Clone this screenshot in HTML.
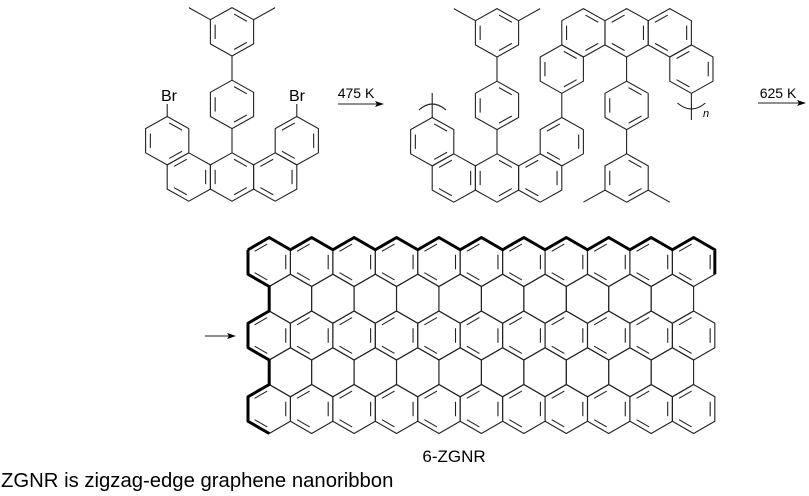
<!DOCTYPE html>
<html><head><meta charset="utf-8"><style>
html,body{margin:0;padding:0;background:#fff;width:809px;height:496px;overflow:hidden}
svg{display:block}
text{font-family:"Liberation Sans",Arial,sans-serif;fill:#000}
</style></head><body>
<svg id="s" width="809" height="496" viewBox="0 0 809 496" xmlns="http://www.w3.org/2000/svg">
<g id="g" stroke="#222" stroke-width="1.1" fill="none" stroke-linejoin="round"></g>
<text x="169" y="101" font-size="16" text-anchor="middle">Br</text>
<text x="297" y="101" font-size="16" text-anchor="middle">Br</text>
<text x="356" y="98" font-size="14" text-anchor="middle">475 K</text>
<text x="778" y="98" font-size="14" text-anchor="middle">625 K</text>
<text x="703" y="117" font-size="11" font-style="italic">n</text>
<text x="454" y="462" font-size="17" text-anchor="middle">6-ZGNR</text>
<text x="1" y="487" font-size="20.3">ZGNR is zigzag-edge graphene nanoribbon</text>
</svg>
<script>
var g=document.getElementById('g'),out='';
function L(a,b,c,d,w){out+='<line x1="'+a+'" y1="'+b+'" x2="'+c+'" y2="'+d+'"'+(w?' stroke-width="'+w+'" stroke="#000"':'')+'/>';}
function verts(cx,cy,hw,s){return [[cx,cy-s],[cx+hw,cy-s/2],[cx+hw,cy+s/2],[cx,cy+s],[cx-hw,cy+s/2],[cx-hw,cy-s/2]];}
function hex(cx,cy,hw,s,inner){var v=verts(cx,cy,hw,s),p='';
 for(var i=0;i<6;i++)p+=(i?'L':'M')+v[i][0].toFixed(2)+','+v[i][1].toFixed(2);
 out+='<path d="'+p+'Z"/>';
 (inner||[]).forEach(function(k){var a=v[k],b=v[(k+1)%6],f=0.78;
  var ax=cx+(a[0]-cx)*f,ay=cy+(a[1]-cy)*f,bx=cx+(b[0]-cx)*f,by=cy+(b[1]-cy)*f;
  var t=0.12;L((ax+(bx-ax)*t).toFixed(2),(ay+(by-ay)*t).toFixed(2),(bx-(bx-ax)*t).toFixed(2),(by-(by-ay)*t).toFixed(2));});}
var GH=21.22,GS=24.5,x0=269.2,y0=262,P=36.75;
for(var r=0;r<5;r++){var cy=y0+P*r;
 if(r%2==0){for(var i=0;i<11;i++)hex(x0+2*GH*i,cy,GH,GS,[5,1,3]);}
 else{for(var i=0;i<10;i++)hex(x0+GH+2*GH*i,cy,GH,GS,[]);}}
var bp='M248,249.75';
for(var i=0;i<11;i++){var cx=x0+2*GH*i;bp+=' L'+cx.toFixed(2)+',237.5 L'+(cx+GH).toFixed(2)+',249.75';}
bp+=' L'+(x0+20*GH+GH).toFixed(2)+',274.25';
out+='<path d="'+bp+'" stroke="#000" stroke-width="3"/>';
out+='<path d="M248,249.75 L248,274.25 L269.2,286.5 L269.2,311 L248,323.25 L248,347.75 L269.2,360 L269.2,384.5 L248,396.75 L248,421.25 L269.2,433.5" stroke="#000" stroke-width="3"/>';
var H=21.6,S=24.2;
function upright(cx,cy){
 hex(cx,cy,H,S,[0,2,4]);hex(cx-2*H,cy,H,S,[1,3,5]);hex(cx+2*H,cy,H,S,[5,1,3]);
 hex(cx-3*H,cy-1.5*S,H,S,[4,0,2]);hex(cx+3*H,cy-1.5*S,H,S,[1,3,5]);
 var t=cy-S;L(cx,t,cx,t-S);var pc=t-2*S;hex(cx,pc,H,S,[4,0,2]);
 L(cx,pc-S,cx,pc-2*S);var dc=pc-3*S;hex(cx,dc,H,S,[4,0,2]);
 L(cx-H,dc-S/2,cx-2*H,dc-S);L(cx+H,dc-S/2,cx+2*H,dc-S);}
upright(232,177);
L(167.2,116.5,167.2,104);L(296.8,116.5,296.8,104);
upright(497,178);
L(432.2,117.5,432.2,93);out+='<path d="M419,110 Q432,98 446,110"/>';
L(561.8,117.5,561.8,93.3);
var c2=626.6,y2=32.8;
hex(c2,y2,H,S,[1,3,5]);hex(c2-2*H,y2,H,S,[0,2,4]);hex(c2+2*H,y2,H,S,[5,1,3]);
hex(c2-3*H,y2+1.5*S,H,S,[4,0,2]);hex(c2+3*H,y2+1.5*S,H,S,[1,3,5]);
L(c2,y2+S,c2,y2+2*S);var p2=y2+3*S;hex(c2,p2,H,S,[4,0,2]);
L(c2,p2+S,c2,p2+2*S);var d2=p2+3*S;hex(c2,d2,H,S,[4,0,2]);
L(c2-H,d2+S/2,c2-2*H,d2+S);L(c2+H,d2+S/2,c2+2*H,d2+S);
var bx=c2+3*H;L(bx,y2+2.5*S,bx,120);out+='<path d="M'+(bx-14)+',103 Q'+bx+',115 '+(bx+14)+',103"/>';
function arr(x1,x2,y){L(x1,y,x2-6,y);out+='<path d="M'+x2+','+y+' L'+(x2-9)+','+(y-3)+' L'+(x2-7)+','+y+' L'+(x2-9)+','+(y+3)+'Z" fill="#000" stroke="none"/>';}
arr(338,384,104);arr(758,806,103);arr(205,236,336);
g.innerHTML=out;
</script>
</body></html>
